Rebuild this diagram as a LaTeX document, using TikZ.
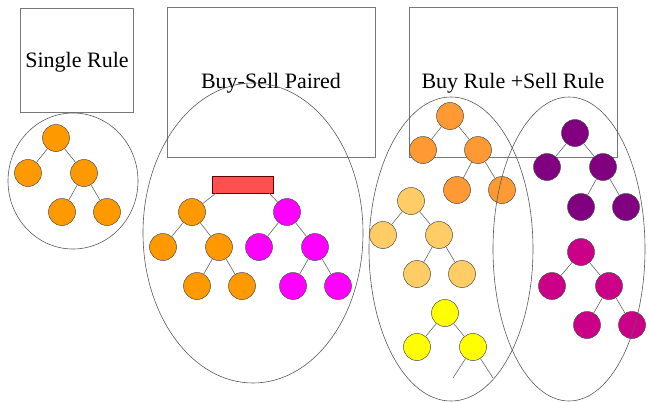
\documentclass[tikz,border=0pt]{standalone}
\usepackage{fontspec}
\setmainfont{Liberation Serif}
\definecolor{orA}{HTML}{FF9900}
\definecolor{orB}{HTML}{FF9933}
\definecolor{lor}{HTML}{FFCC66}
\definecolor{yel}{HTML}{FFFF00}
\definecolor{mag}{HTML}{FF00FF}
\definecolor{pur}{HTML}{800080}
\definecolor{pnk}{HTML}{CC0088}
\definecolor{redbox}{HTML}{FF5050}
\definecolor{frame}{HTML}{777777}
\tikzset{
  tn/.style={circle, draw=black!70, line width=0.5pt, minimum size=27pt, inner sep=0pt},
  edge/.style={draw=black!60, line width=0.6pt},
  rulebox/.style={draw=frame, line width=0.8pt},
  groupline/.style={draw=black!65, line width=0.6pt},
  lbl/.style={font=\fontsize{22}{24}\selectfont, inner sep=0pt}
}
\begin{document}
\begin{tikzpicture}[x=1pt,y=-1pt]
\useasboundingbox (0,0) rectangle (649,402);
% rule boxes
\draw[rulebox] (20,8) rectangle (133,112);
\draw[rulebox] (167,7) rectangle (375,157);
\draw[rulebox] (409,7) rectangle (617,157);
\node[lbl] (t1) at (77,62) {Single Rule};
\node[lbl] (t2) at (271,83) {Buy-Sell Paired};
\node[lbl] (t3) at (513,83) {Buy Rule +Sell Rule};

% group outlines (behind trees except right ellipse)
\draw[groupline] (73,181) ellipse [x radius=65pt, y radius=68pt];
\draw[groupline] (253,233) ellipse [x radius=110pt, y radius=150pt];
\draw[groupline] (451,249) ellipse [x radius=82pt, y radius=152pt];

% Tree 1 (single rule)
\node[tn, fill=orA] (a1) at (56,138) {};
\node[tn, fill=orA] (a2) at (28,173) {};
\node[tn, fill=orA] (a3) at (84,173) {};
\node[tn, fill=orA] (a4) at (62,212) {};
\node[tn, fill=orA] (a5) at (107,212) {};
\draw[edge] (a1) -- (a2); \draw[edge] (a1) -- (a3);
\draw[edge] (a3) -- (a4); \draw[edge] (a3) -- (a5);

% Buy-Sell paired
\node[draw=black!60!red, fill=redbox, line width=0.6pt, minimum width=61pt, minimum height=17pt, inner sep=0pt] (r) at (242.5,184.5) {};
\node[tn, fill=orA] (b1) at (192,212) {};
\node[tn, fill=orA] (b2) at (163,247) {};
\node[tn, fill=orA] (b3) at (219,247) {};
\node[tn, fill=orA] (b4) at (197,286) {};
\node[tn, fill=orA] (b5) at (242,286) {};
\node[tn, fill=mag] (c1) at (287,212) {};
\node[tn, fill=mag] (c2) at (259,247) {};
\node[tn, fill=mag] (c3) at (315,247) {};
\node[tn, fill=mag] (c4) at (293,286) {};
\node[tn, fill=mag] (c5) at (338,286) {};
\draw[edge] ([xshift=4pt]r.south west) -- (b1);
\draw[edge] ([xshift=-4pt]r.south east) -- (c1);
\draw[edge] (b1) -- (b2); \draw[edge] (b1) -- (b3);
\draw[edge] (b3) -- (b4); \draw[edge] (b3) -- (b5);
\draw[edge] (c1) -- (c2); \draw[edge] (c1) -- (c3);
\draw[edge] (c3) -- (c4); \draw[edge] (c3) -- (c5);

% Buy rules
\node[tn, fill=orB] (d1) at (450,116) {};
\node[tn, fill=orB] (d2) at (423,150) {};
\node[tn, fill=orB] (d3) at (478,150) {};
\node[tn, fill=orB] (d4) at (457,190) {};
\node[tn, fill=orB] (d5) at (502,190) {};
\draw[edge] (d1) -- (d2); \draw[edge] (d1) -- (d3);
\draw[edge] (d3) -- (d4); \draw[edge] (d3) -- (d5);

\node[tn, fill=lor] (e1) at (411,201) {};
\node[tn, fill=lor] (e2) at (383,235) {};
\node[tn, fill=lor] (e3) at (439,235) {};
\node[tn, fill=lor] (e4) at (417,274) {};
\node[tn, fill=lor] (e5) at (462,274) {};
\draw[edge] (e1) -- (e2); \draw[edge] (e1) -- (e3);
\draw[edge] (e3) -- (e4); \draw[edge] (e3) -- (e5);

\node[tn, fill=yel] (f1) at (445,313) {};
\node[tn, fill=yel] (f2) at (417,347) {};
\node[tn, fill=yel] (f3) at (473,347) {};
\coordinate (f4) at (453,378);
\coordinate (f5) at (493,378);
\draw[edge] (f1) -- (f2); \draw[edge] (f1) -- (f3);
\draw[edge] (f3) -- (f4); \draw[edge] (f3) -- (f5);

% Sell rules
\node[tn, fill=pur] (g1) at (575,133) {};
\node[tn, fill=pur] (g2) at (547,167) {};
\node[tn, fill=pur] (g3) at (603,167) {};
\node[tn, fill=pur] (g4) at (581,207) {};
\node[tn, fill=pur] (g5) at (626,207) {};
\draw[edge] (g1) -- (g2); \draw[edge] (g1) -- (g3);
\draw[edge] (g3) -- (g4); \draw[edge] (g3) -- (g5);

\node[tn, fill=pnk] (h1) at (581,252) {};
\node[tn, fill=pnk] (h2) at (552,286) {};
\node[tn, fill=pnk] (h3) at (609,286) {};
\node[tn, fill=pnk] (h4) at (587,325) {};
\node[tn, fill=pnk] (h5) at (632,325) {};
\draw[edge] (h1) -- (h2); \draw[edge] (h1) -- (h3);
\draw[edge] (h3) -- (h4); \draw[edge] (h3) -- (h5);

% right ellipse drawn over the buy-rule tree
\draw[groupline] (569,249) ellipse [x radius=76pt, y radius=152pt];
\end{tikzpicture}
\end{document}
